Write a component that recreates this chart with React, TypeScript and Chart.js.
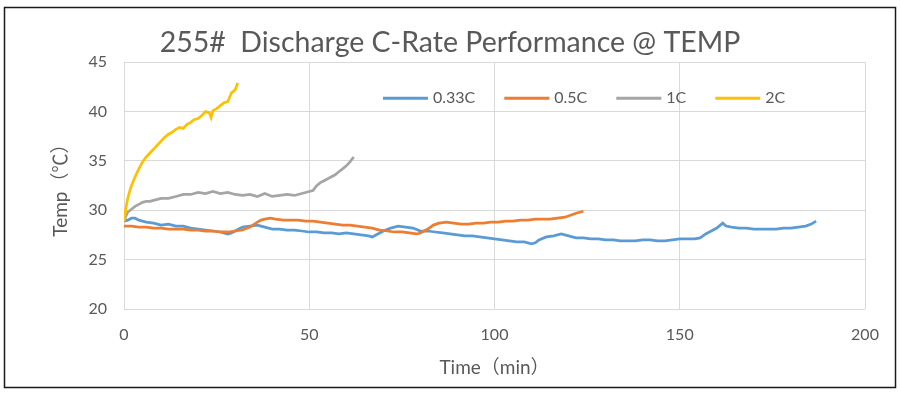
import React, { useEffect, useRef } from "react";
import { Chart, registerables } from "chart.js";

Chart.register(...registerables);

const chartTitle = "255#  Discharge C-Rate Performance @ TEMP";
const xTitle = "Time（min）";
const yTitle = "Temp（℃）";
const seriesLabels = ["0.33C", "0.5C", "1C", "2C"];
const seriesColors = ["#5B9BD5", "#ED7D31", "#A5A5A5", "#FFC000"];

const t033 = [0, 1, 2, 3, 4, 5, 6, 8, 10, 12, 14, 16, 18, 20, 22, 24, 26, 28, 29, 30, 31, 32, 34, 36, 38, 40, 42, 44, 46, 48, 50, 52, 54, 56, 58, 60, 62, 64, 66, 67, 68, 70, 72, 74, 76, 78, 80, 82, 84, 86, 88, 90, 92, 94, 96, 98, 100, 102, 104, 106, 108, 110, 111, 112, 114, 116, 118, 120, 122, 124, 126, 128, 130, 132, 134, 136, 138, 140, 142, 144, 146, 148, 150, 152, 154, 155.5, 157, 158.5, 160, 161.6, 162.5, 164, 166, 168, 170, 172, 174, 176, 178, 180, 182, 184, 185.5, 186.8];
const v033 = [28.9, 29.0, 29.2, 29.2, 29.0, 28.9, 28.8, 28.7, 28.5, 28.6, 28.4, 28.4, 28.2, 28.1, 28.0, 27.9, 27.8, 27.6, 27.7, 27.9, 28.1, 28.3, 28.4, 28.5, 28.3, 28.1, 28.1, 28.0, 28.0, 27.9, 27.8, 27.8, 27.7, 27.7, 27.6, 27.7, 27.6, 27.5, 27.4, 27.3, 27.5, 27.9, 28.2, 28.4, 28.3, 28.2, 27.9, 27.9, 27.8, 27.7, 27.6, 27.5, 27.4, 27.4, 27.3, 27.2, 27.1, 27.0, 26.9, 26.8, 26.8, 26.6, 26.7, 27.0, 27.3, 27.4, 27.6, 27.4, 27.2, 27.2, 27.1, 27.1, 27.0, 27.0, 26.9, 26.9, 26.9, 27.0, 27.0, 26.9, 26.9, 27.0, 27.1, 27.1, 27.1, 27.2, 27.6, 27.9, 28.2, 28.7, 28.4, 28.3, 28.2, 28.2, 28.1, 28.1, 28.1, 28.1, 28.2, 28.2, 28.3, 28.4, 28.6, 28.9];

const t05 = [0, 2, 4, 6, 8, 10, 12, 14, 16, 18, 20, 22, 24, 26, 28, 30, 32, 34, 36, 37, 38, 39.4, 41, 43, 45, 47, 49, 51, 53, 55, 57, 59, 61, 63, 65, 67, 69, 71, 73, 75, 77, 79, 80, 82, 83.5, 85, 87, 89, 91, 93, 95, 97, 99, 101, 103, 105, 107, 109, 111, 113, 115, 117, 119, 120.5, 122, 124];
const v05 = [28.4, 28.4, 28.3, 28.3, 28.2, 28.2, 28.1, 28.1, 28.1, 28.0, 28.0, 27.9, 27.9, 27.8, 27.8, 27.9, 28.0, 28.3, 28.8, 29.0, 29.1, 29.2, 29.1, 29.0, 29.0, 29.0, 28.9, 28.9, 28.8, 28.7, 28.6, 28.5, 28.5, 28.4, 28.3, 28.2, 28.0, 27.9, 27.8, 27.8, 27.7, 27.6, 27.7, 28.1, 28.5, 28.7, 28.8, 28.7, 28.6, 28.6, 28.7, 28.7, 28.8, 28.8, 28.9, 28.9, 29.0, 29.0, 29.1, 29.1, 29.1, 29.2, 29.3, 29.5, 29.7, 29.9];

const t1C = [0, 0.5, 1, 2, 3, 4, 5, 6, 7, 8, 10, 12, 14, 16, 18, 20, 22, 24, 26, 28, 30, 32, 34, 36, 38, 40, 42, 44, 46, 48, 50, 51, 52, 53, 54, 55, 56, 57, 58, 59, 60, 61, 62];
const v1C = [28.9, 29.4, 29.8, 30.1, 30.4, 30.6, 30.8, 30.9, 30.9, 31.0, 31.2, 31.2, 31.4, 31.6, 31.6, 31.8, 31.7, 31.9, 31.7, 31.8, 31.6, 31.5, 31.6, 31.4, 31.7, 31.4, 31.5, 31.6, 31.5, 31.7, 31.9, 32.0, 32.5, 32.8, 33.0, 33.2, 33.4, 33.6, 33.9, 34.2, 34.5, 34.9, 35.4];

const t2C = [0, 0.5, 1, 1.5, 2, 3, 4, 5, 6, 7, 8, 9, 10, 11, 12, 13, 14, 15, 16, 17, 18, 19, 20, 21, 22, 23, 23.5, 24, 25, 26, 27, 28, 29, 30, 30.7];
const v2C = [28.9, 30.2, 31.2, 31.9, 32.5, 33.4, 34.2, 34.9, 35.4, 35.8, 36.2, 36.6, 37.0, 37.4, 37.7, 37.9, 38.2, 38.4, 38.3, 38.7, 38.9, 39.2, 39.3, 39.6, 40.0, 39.9, 39.4, 40.1, 40.3, 40.6, 40.9, 41.0, 41.9, 42.2, 42.9];

const xMin = 0, xMax = 200, xStep = 50;
const yMin = 20, yMax = 45, yStep = 5;

const FONT = 'Lato, "Noto Sans CJK SC", sans-serif';
const TEXT = "#595959";
const GRID = "#D9D9D9";

const seriesTimes = [t033, t05, t1C, t2C];
const seriesValues = [v033, v05, v1C, v2C];

const framePlugin = {
  id: "frame",
  beforeDraw(chart: any) {
    const { ctx, width, height } = chart;
    ctx.save();
    ctx.fillStyle = "#ffffff";
    ctx.fillRect(0, 0, width, height);
    ctx.strokeStyle = "#1a1a1a";
    ctx.lineWidth = 1.5;
    ctx.strokeRect(4.5, 7.5, width - 9, height - 15);
    ctx.restore();
  },
};

const inlineLegend = {
  id: "inlineLegend",
  afterDatasetsDraw(chart: any) {
    const { ctx, chartArea } = chart;
    ctx.save();
    ctx.font = `16px ${FONT}`;
    ctx.textBaseline = "middle";
    ctx.textAlign = "left";
    let x = chartArea.left + chartArea.width * 0.3495;
    const y = chartArea.top + 36;
    chart.data.datasets.forEach((ds: any) => {
      ctx.strokeStyle = ds.borderColor;
      ctx.lineWidth = 3;
      ctx.beginPath();
      ctx.moveTo(x, y);
      ctx.lineTo(x + 45, y);
      ctx.stroke();
      ctx.fillStyle = TEXT;
      ctx.fillText(ds.label, x + 50, y);
      x += 50 + ctx.measureText(ds.label).width + 29;
    });
    ctx.restore();
  },
};

export default function App() {
  const ref = useRef<HTMLCanvasElement>(null);
  useEffect(() => {
    if (!ref.current) return;
    const datasets = seriesLabels.map((label, i) => ({
      label,
      data: seriesTimes[i].map((t, j) => ({ x: t, y: seriesValues[i][j] })),
      borderColor: seriesColors[i],
      backgroundColor: seriesColors[i],
      borderWidth: 2.75,
      pointRadius: 0,
      tension: 0,
      order: seriesLabels.length - i,
    }));
    const chart = new Chart(ref.current, {
      type: "line",
      data: { datasets },
      plugins: [framePlugin, inlineLegend],
      options: {
        animation: false,
        responsive: false,
        layout: { padding: { left: 35, right: 35, top: 0, bottom: 0 } },
        plugins: {
          legend: { display: false },
          tooltip: { enabled: false },
          title: {
            display: true,
            text: chartTitle,
            color: TEXT,
            font: { family: FONT, size: 28.5, weight: "normal" },
            padding: { top: 26, bottom: 2 },
          },
        },
        scales: {
          x: {
            type: "linear",
            min: xMin,
            max: xMax,
            ticks: { stepSize: xStep, color: TEXT, font: { family: FONT, size: 16 }, padding: 16 },
            grid: { color: GRID, drawTicks: false, lineWidth: 1 },
            border: { display: false },
            title: {
              display: true,
              text: xTitle,
              color: TEXT,
              font: { family: FONT, size: 19 },
              padding: { top: 0, bottom: 16 },
            },
            afterFit(s: any) {
              s.height = 86;
            },
          },
          y: {
            type: "linear",
            min: yMin,
            max: yMax,
            ticks: { stepSize: yStep, color: TEXT, font: { family: FONT, size: 16 }, padding: 17 },
            grid: { color: GRID, drawTicks: false, lineWidth: 1 },
            border: { display: false },
            title: {
              display: true,
              text: yTitle,
              color: TEXT,
              font: { family: FONT, size: 19 },
              padding: { top: 14, bottom: 0 },
            },
            afterFit(s: any) {
              s.width = 89;
            },
          },
        },
      },
    } as any);
    return () => chart.destroy();
  }, []);
  return (
    <div style={{ position: "absolute", left: 0, top: 0, width: 900, height: 395 }}>
      <canvas ref={ref} width={900} height={395} style={{ display: "block" }} />
    </div>
  );
}
